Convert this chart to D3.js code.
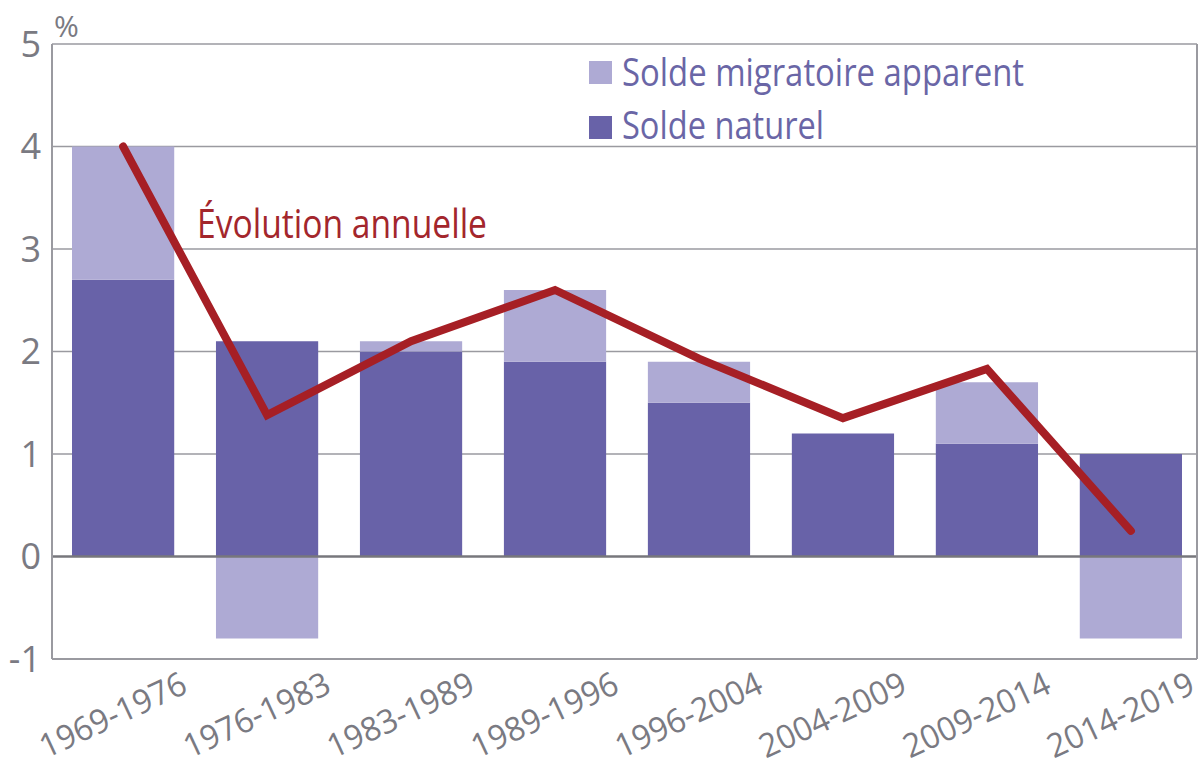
<!DOCTYPE html>
<html>
<head>
<meta charset="utf-8">
<script src="https://cdn.jsdelivr.net/npm/d3@7"></script>
<style>
  html, body { margin: 0; padding: 0; background: #fff; }
  svg { display: block; font-family: "Open Sans", "Noto Sans", sans-serif; }
</style>
</head>
<body>
<svg id="chart" width="1203" height="767"></svg>
<script>
const periods = ["1969-1976","1976-1983","1983-1989","1989-1996","1996-2004","2004-2009","2009-2014","2014-2019"];
const soldeNaturel = [2.7, 2.1, 2.0, 1.9, 1.5, 1.2, 1.1, 1.0];
const soldeMigratoire = [1.3, -0.8, 0.1, 0.7, 0.4, 0.0, 0.6, -0.8];
const evolutionAnnuelle = [4.0, 1.38, 2.1, 2.6, 1.93, 1.35, 1.83, 0.25];
const yTicks = [-1, 0, 1, 2, 3, 4, 5];
const legendLabels = ["Solde migratoire apparent", "Solde naturel"];
const lineLabel = "Évolution annuelle";

(function () {
const colNat = "#6862a8", colMig = "#aeaad4", colLine = "#a61f25";
const svg = d3.select("#chart");

const pL = 52, pR = 1197, pT = 44, pB = 659;
const x = d3.scaleBand().domain(periods).range([72, 1182]).paddingInner(0.29).paddingOuter(0);
const y = d3.scaleLinear().domain([-1, 5]).range([pB, pT]);

// gridlines
svg.append("g").selectAll("line").data(yTicks.filter(d => d > 0)).join("line")
  .attr("x1", pL).attr("x2", pR)
  .attr("y1", d => y(d)).attr("y2", d => y(d))
  .attr("stroke", "#9a9aa0").attr("stroke-width", 1.5);

// bars
const g = svg.append("g");
periods.forEach((p, i) => {
  const n = soldeNaturel[i], m = soldeMigratoire[i];
  g.append("rect").attr("x", x(p)).attr("width", x.bandwidth())
    .attr("y", y(n)).attr("height", y(0) - y(n)).attr("fill", colNat);
  if (m > 0) {
    g.append("rect").attr("x", x(p)).attr("width", x.bandwidth())
      .attr("y", y(n + m)).attr("height", y(n) - y(n + m)).attr("fill", colMig);
  } else if (m < 0) {
    g.append("rect").attr("x", x(p)).attr("width", x.bandwidth())
      .attr("y", y(0)).attr("height", y(m) - y(0)).attr("fill", colMig);
  }
});

// zero line
svg.append("line").attr("x1", pL).attr("x2", pR).attr("y1", y(0)).attr("y2", y(0))
  .attr("stroke", "#77777c").attr("stroke-width", 2.5);

// frame: left, bottom, right
svg.append("line").attr("x1", pL).attr("x2", pL).attr("y1", pT).attr("y2", pB)
  .attr("stroke", "#9a9aa0").attr("stroke-width", 2);
svg.append("line").attr("x1", pL).attr("x2", pR).attr("y1", pB).attr("y2", pB)
  .attr("stroke", "#9a9aa0").attr("stroke-width", 2);
svg.append("line").attr("x1", pR).attr("x2", pR).attr("y1", pT).attr("y2", pB)
  .attr("stroke", "#9a9aa0").attr("stroke-width", 2);

// y tick labels
svg.append("g").selectAll("text").data(yTicks).join("text")
  .attr("x", 41).attr("y", d => y(d)).attr("dy", "0.36em")
  .attr("text-anchor", "end").attr("font-size", 36).attr("fill", "#7a7a82")
  .text(d => d);
svg.append("text").attr("x", 54).attr("y", 37).attr("font-size", 30).attr("fill", "#7a7a82").text("%");

// x labels
svg.append("g").selectAll("text").data(periods).join("text")
  .attr("transform", d => `translate(${x(d) + x.bandwidth() / 2 + 66},692) rotate(-25)`)
  .attr("text-anchor", "end").attr("font-size", 33).attr("fill", "#7a7a82")
  .attr("textLength", 158).attr("lengthAdjust", "spacingAndGlyphs")
  .text(d => d);

// line
const line = d3.line().x((d, i) => x(periods[i]) + x.bandwidth() / 2).y(d => y(d));
svg.append("path").datum(evolutionAnnuelle).attr("d", line)
  .attr("fill", "none").attr("stroke", colLine).attr("stroke-width", 8)
  .attr("stroke-linejoin", "miter").attr("stroke-linecap", "round");

svg.append("text").attr("x", 197).attr("y", 238).attr("font-size", 40).attr("fill", "#a3262c")
  .attr("textLength", 290).attr("lengthAdjust", "spacingAndGlyphs").text(lineLabel);

// legend
const leg = [{c: colMig, t: legendLabels[0], y: 61, ty: 86, w: 402}, {c: colNat, t: legendLabels[1], y: 116, ty: 139, w: 202}];
leg.forEach(l => {
  svg.append("rect").attr("x", 589).attr("y", l.y).attr("width", 23).attr("height", 23).attr("fill", l.c);
  svg.append("text").attr("x", 622).attr("y", l.ty).attr("font-size", 38).attr("fill", "#6a66a6")
    .attr("textLength", l.w).attr("lengthAdjust", "spacingAndGlyphs").text(l.t);
});
})();
</script>
</body>
</html>
